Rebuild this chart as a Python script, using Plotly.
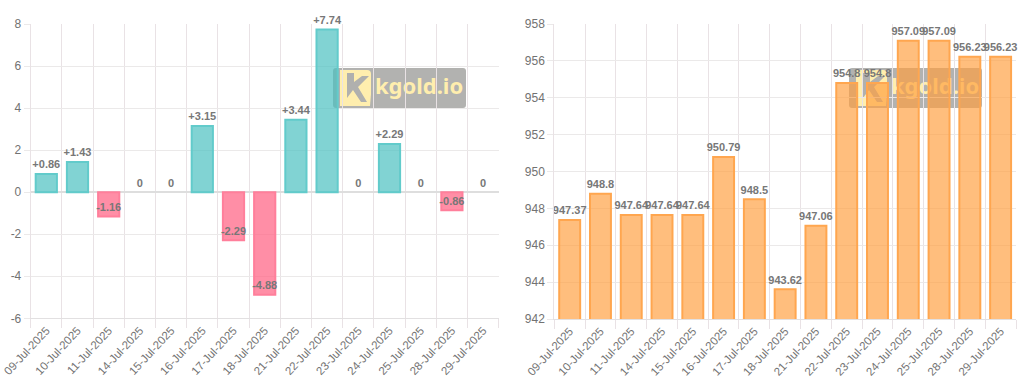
import plotly.graph_objects as go

dates = ["09-Jul-2025","10-Jul-2025","11-Jul-2025","14-Jul-2025","15-Jul-2025","16-Jul-2025","17-Jul-2025","18-Jul-2025",
         "21-Jul-2025","22-Jul-2025","23-Jul-2025","24-Jul-2025","25-Jul-2025","28-Jul-2025","29-Jul-2025"]
change = [0.86,1.43,-1.16,0,0,3.15,-2.29,-4.88,3.44,7.74,0,2.29,0,-0.86,0]
price = [947.37,948.8,947.64,947.64,947.64,950.79,948.5,943.62,947.06,954.8,954.8,957.09,957.09,956.23,956.23]
change_ticks = [-6,-4,-2,0,2,4,6,8]
price_ticks = [942,944,946,948,950,952,954,956,958]

W, H = 1024, 387
FONT = "Liberation Sans, Arial, sans-serif"
TICK = "#727272"
LABEL = "#777777"
GRID_V = "#e9e2e5"
GRID_H = "#ebe9e9"

def px(x): return x / W
def py(y): return 1 - y / H

def change_label(v):
    if v == 0:
        return "0"
    return f"{v:+g}"

fig = go.Figure()

panels = [
    dict(xs=(30.7, 498.7), ys=(24, 318.3), wm=333),
    dict(xs=(554.3, 1016), ys=(24, 319), wm=849),
]

for i, p in enumerate(panels):
    sx = "x" if i == 0 else "x2"
    sy = "y" if i == 0 else "y2"
    fig.add_trace(go.Scatter(x=[0.5], y=[0.5], mode="text", text=["kgold.io"], xaxis=sx, yaxis=sy, cliponaxis=False,
                             textfont=dict(family="Noto Sans, sans-serif", size=22, color="#ffeeae", weight="bold"),
                             textposition="middle center", hoverinfo="skip", showlegend=False))
    x0 = p["wm"]
    ax = "xaxis" if i == 0 else "xaxis2"
    ay = "yaxis" if i == 0 else "yaxis2"
    fig.layout[ax] = dict(domain=[px(x0 + 42), px(x0 + 130)], range=[0, 1], visible=False, fixedrange=True, automargin=False)
    fig.layout[ay] = dict(domain=[py(106), py(70)], range=[0, 1], visible=False, fixedrange=True, automargin=False)
    fig.add_shape(type="path", xref="paper", yref="paper", layer="below", line_width=0,
                  fillcolor="rgba(115,115,112,0.55)",
                  path=f"M {px(x0+3)} {py(68)} L {px(x0+130)} {py(68)} Q {px(x0+133)} {py(68)} {px(x0+133)} {py(71)} "
                       f"L {px(x0+133)} {py(105)} Q {px(x0+133)} {py(108)} {px(x0+130)} {py(108)} L {px(x0+3)} {py(108)} "
                       f"Q {px(x0)} {py(108)} {px(x0)} {py(105)} L {px(x0)} {py(71)} Q {px(x0)} {py(68)} {px(x0+3)} {py(68)} Z")
    fig.add_shape(type="path", xref="paper", yref="paper", layer="below", line_width=0, fillcolor="#ffeeae",
                  path=f"M {px(x0+7)} {py(70)} L {px(x0+34)} {py(70)} Q {px(x0+38)} {py(70)} {px(x0+38)} {py(74)} "
                       f"L {px(x0+38)} {py(94)} L {px(x0+37)} {py(106)} L {px(x0+7)} {py(106)} Z")
    fig.add_shape(type="path", xref="paper", yref="paper", layer="below", line_width=0, fillcolor="#b0b0ae",
                  path=f"M {px(x0+14)} {py(73)} L {px(x0+21)} {py(73)} L {px(x0+21)} {py(82)} L {px(x0+29)} {py(76)} "
                       f"L {px(x0+36)} {py(76)} L {px(x0+25)} {py(87)} L {px(x0+34)} {py(102)} L {px(x0+28)} {py(102)} "
                       f"L {px(x0+20)} {py(90)} L {px(x0+14)} {py(98)} Z")

change_fill = ["rgba(255,99,132,0.72)" if v < 0 else "rgba(75,192,192,0.7)" for v in change]
change_line = ["#ff7f9b" if v < 0 else "#62cbcb" for v in change]
change_width = [0 if v == 0 else 2 for v in change]
label_marker = dict(size=3, color="rgba(0,0,0,0)", line=dict(width=0))

fig.add_trace(go.Bar(x=dates, y=change, xaxis="x3", yaxis="y3", width=0.68,
                     marker=dict(color=change_fill, line=dict(color=change_line, width=change_width)),
                     showlegend=False, hoverinfo="x+y"))
fig.add_trace(go.Scatter(x=dates, y=change, xaxis="x3", yaxis="y3", mode="markers+text", marker=label_marker,
                         text=[change_label(v) for v in change], textposition="top center", cliponaxis=False,
                         textfont=dict(family=FONT, size=11, color=LABEL, weight="bold"),
                         showlegend=False, hoverinfo="skip"))
fig.add_trace(go.Bar(x=dates, y=price, xaxis="x4", yaxis="y4", width=0.68,
                     marker=dict(color="rgba(255,159,64,0.68)", line=dict(color="#ffa64f", width=2)),
                     showlegend=False, hoverinfo="x+y"))
fig.add_trace(go.Scatter(x=dates, y=price, xaxis="x4", yaxis="y4", mode="markers+text", marker=label_marker,
                         text=[f"{v:g}" for v in price], textposition="top center", cliponaxis=False,
                         textfont=dict(family=FONT, size=11, color=LABEL, weight="bold"),
                         showlegend=False, hoverinfo="skip"))

def xax(p, anchor):
    return dict(domain=[px(p["xs"][0]), px(p["xs"][1])], anchor=anchor, type="category", automargin=False,
                range=[-0.5, len(dates) - 0.5], autorange=False,
                categoryorder="array", categoryarray=dates, tickvals=dates, ticktext=dates,
                tickangle=-47, tickson="boundaries", ticks="outside", ticklen=9, tickcolor=GRID_V, tickwidth=1,
                showgrid=True, gridcolor=GRID_V, gridwidth=1, showline=True, linecolor="#e2e0e1", linewidth=1,
                tickfont=dict(family=FONT, size=11.5, color=TICK), mirror=False, zeroline=False)

def yax(p, anchor, rng, ticks, zero):
    return dict(domain=[py(p["ys"][1]), py(p["ys"][0])], anchor=anchor, range=rng, automargin=False,
                tickvals=ticks, ticktext=[str(t) for t in ticks],
                ticks="outside", ticklen=6, tickcolor=GRID_H, tickwidth=1, showgrid=True, gridcolor=GRID_H, gridwidth=1,
                showline=True, linecolor=GRID_V, linewidth=1, tickfont=dict(family=FONT, size=12, color=TICK),
                zeroline=zero, zerolinecolor="#dedede", zerolinewidth=1.5)

fig.update_layout(
    width=W, height=H, margin=dict(l=0, r=0, t=0, b=0, autoexpand=False), autosize=False,
    paper_bgcolor="white", plot_bgcolor="rgba(0,0,0,0)", showlegend=False,
    xaxis3=xax(panels[0], "y3"), yaxis3=yax(panels[0], "x3", [-6, 8], change_ticks, True),
    xaxis4=xax(panels[1], "y4"), yaxis4=yax(panels[1], "x4", [942, 958], price_ticks, False),
)

fig.write_html("out.html", config=dict(displayModeBar=False),
               post_script="document.body.style.margin='0';document.documentElement.style.overflow='hidden';")
